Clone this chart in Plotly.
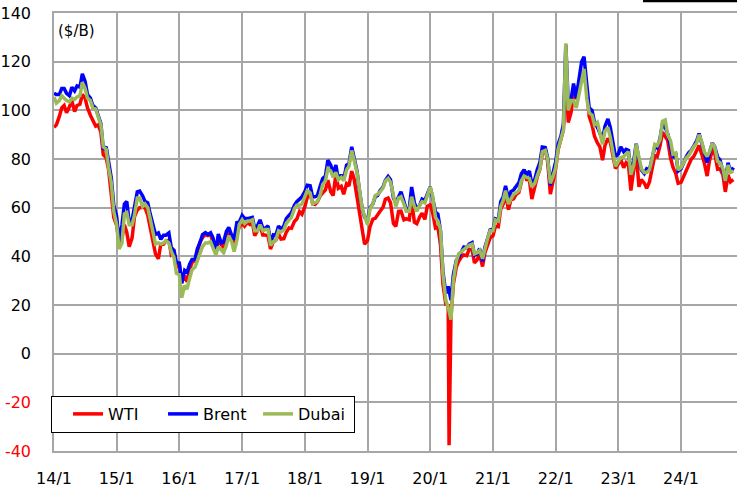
import pandas as pd
import plotly.graph_objects as go

# semi-monthly sample dates (1st and 15th), Jan 2014 - Nov 2024
dates = pd.date_range("2014-01-01", "2024-11-01", freq="SMS")

wti = [
    # 2014
    93, 94, 97.5, 101, 102, 99, 101.5, 104, 99.5, 102, 102.5, 106.5, 105, 101, 98, 96, 93.5, 94, 91, 81.8, 80.5, 75.6, 66.5, 56,
    # 2015
    52.7, 45.5, 47.5, 53, 49.8, 44, 47.6, 56.4, 59, 60, 60.2, 60, 56.9, 51.4, 46, 41, 39, 45, 45, 46.4, 46.6, 40.7, 41.6, 35.5,
    # 2016
    36.8, 29.5, 32, 29.5, 34.5, 37.5, 38.3, 41.5, 45.9, 47.7, 49, 48.5, 49, 45.8, 41, 46.5, 44.7, 43.5, 48.2, 50.4, 46.8, 45.6, 49.4, 52,
    # 2017
    53.7, 52.4, 53.9, 53.1, 54, 48.5, 50.6, 52.9, 48.8, 48.8, 48.3, 43, 46, 46.5, 49.2, 47.1, 47.3, 49.9, 51.7, 51.5, 54.3, 55.3, 58.4, 57.3,
    # 2018
    60.4, 64.3, 65.8, 61.7, 61.3, 62.3, 65, 66.2, 67.3, 71.3, 66.5, 65, 74, 68, 68.8, 65.5, 69.8, 68.9, 75, 71.8, 63.5, 56.5, 51, 45,
    # 2019
    46.5, 52.1, 55.3, 55.6, 56.8, 58.5, 60.1, 63.5, 64, 62, 53.5, 52.3, 58.5, 58.6, 55, 55.5, 55, 62.9, 54, 53.4, 56.2, 57.7, 55.2, 60.5,
    # 2020
    61.2, 58, 51.6, 52, 44.8, 28.7, 20.3, 19.9, 15, 28.5, 35.5, 38, 39.8, 40.6, 40.3, 42.9, 42.8, 37.3, 38.7, 40.9, 35.8, 41.5, 45.3, 47.6,
    # 2021
    48.5, 52.4, 52.2, 59.5, 61.5, 65.4, 59.2, 63.2, 63.6, 65.4, 66.3, 71, 75.2, 71.6, 71.3, 63.5, 68.5, 72.5, 75.8, 82.3, 84, 79, 65.6, 70.9,
    # 2022
    76, 83.8, 88.2, 92, 118, 95, 99.3, 106.9, 104.7, 110.5, 115, 115.3, 108.4, 97.6, 93.9, 89.4, 86.6, 85.1, 79.5, 85.6, 88.4, 86.9, 81.2, 76.1,
    # 2023
    78, 79.9, 76.4, 78.5, 77.5, 67, 75.7, 82.5, 68.6, 71.5, 70.1, 68, 70.6, 75.4, 81.4, 80.9, 85.5, 91, 89, 87.7, 80.4, 76.6, 74.1, 70,
    # 2024
    70.4, 72.6, 75.8, 78, 80, 81, 83.2, 85.5, 81.9, 78.6, 73, 79.4, 83.4, 82.4, 75.8, 76, 73.5, 66.5, 73.5, 70.6, 71.5,
]

brent = [
    # 2014
    107, 106.5, 106.5, 109, 109, 107, 106, 109.5, 108, 110, 109.5, 115, 112, 106.5, 105, 102, 101, 98, 94.5, 84, 85, 79, 72, 61,
    # 2015
    56.4, 46, 53, 61.5, 62.6, 54, 55, 60.3, 66.5, 66.8, 64.9, 62.6, 62, 57.5, 52.2, 49, 49.6, 47, 48.7, 48.7, 49.6, 43.6, 42.5, 37.5,
    # 2016
    37.3, 28.9, 34.2, 33.4, 36.8, 38.7, 38.7, 43.1, 45.8, 48.9, 49.7, 49, 49.7, 47.6, 42.1, 49.2, 45.5, 46, 50.2, 51.9, 48.6, 46.9, 53.9, 54,
    # 2017
    56.8, 55.5, 55.5, 55.8, 56, 51.5, 52.7, 55, 51.5, 51.5, 52.5, 45.5, 48.8, 48.5, 52.5, 51, 52.5, 55.5, 57, 58, 61, 62.5, 63.5, 64.5,
    # 2018
    66.6, 69.2, 69, 64.5, 64.5, 65, 69, 72, 73, 79.5, 77.5, 74, 77.5, 71.5, 73.5, 71.5, 77.5, 78, 85, 80.5, 75, 67, 59.5, 56,
    # 2019
    54.9, 60, 61.5, 64.5, 65, 67, 68.5, 71.2, 72.8, 71.5, 64, 62, 64.5, 66.5, 62.5, 59, 59.5, 68.5, 62, 59.5, 61, 63.5, 63, 65.3,
    # 2020
    68.5, 64, 58.2, 57.3, 50.5, 33.9, 24.7, 27.7, 22, 32.5, 38.3, 39.7, 42, 43.8, 43.5, 45, 45.6, 40.5, 41, 43.2, 37.9, 43.8, 47.4, 50.8,
    # 2021
    51.1, 55.4, 55, 62.5, 64.4, 69, 63.5, 66.6, 67.3, 68.7, 70.3, 73.9, 75.6, 73.5, 75, 69.5, 71.6, 75.5, 78.6, 84.9, 84.7, 80.5, 69.2, 73.9,
    # 2022
    78.9, 86, 89.5, 94.5, 127, 103, 104.5, 111, 105, 112, 120, 122, 111, 101, 100, 95, 93, 91, 88, 93.5, 96.5, 93, 87, 81,
    # 2023
    82.1, 85, 83, 84, 83.5, 73.5, 79.5, 86.3, 79.5, 75.5, 74, 76, 75.5, 80, 85, 84.5, 88.5, 94.5, 93, 90.5, 85, 80.5, 82.5, 75,
    # 2024
    75.9, 78.3, 81, 82.6, 83.6, 85.3, 87.4, 90.5, 86.3, 82.8, 78.5, 82.6, 86.6, 85, 80.8, 79.7, 75, 71, 78.5, 74.5, 76.5,
]

dubai = [
    # 2014
    105.5, 103, 104, 106, 105, 104, 103.5, 105, 104.5, 105.5, 106, 111.5, 109, 105, 104, 101, 100.5, 97, 94, 85, 84, 76.5, 70, 58.5,
    # 2015
    53, 43, 45.5, 57.5, 58, 53, 53, 57, 64, 64, 60.5, 61.5, 60, 55.5, 49, 45, 45.5, 45, 45.5, 46.5, 45.5, 42, 39.5, 33,
    # 2016
    32.5, 23, 28, 26.5, 31, 34.5, 35.5, 38.5, 41.5, 44, 45.5, 45.5, 46, 43, 40.5, 44, 42.5, 41.5, 44.5, 48.5, 46, 42, 46.5, 53,
    # 2017
    55, 53.5, 54.5, 54.5, 55, 50.5, 50.5, 53, 50.5, 51, 51, 44.5, 46, 46.5, 50.5, 50, 51, 53.5, 55, 56, 59.5, 61, 61, 61.5,
    # 2018
    64.5, 67, 66, 61.5, 62, 62.5, 65.5, 69.5, 71, 76, 75, 72.5, 74.5, 71.5, 72.5, 71, 75.5, 77, 83.5, 79.5, 74.5, 67.5, 59.5, 56.5,
    # 2019
    53, 59.5, 61.5, 65, 65.5, 66.5, 68, 71, 72, 70.5, 64, 60.5, 64, 64.5, 61.5, 58.5, 58.5, 64.5, 60.5, 58.5, 61, 62.5, 62, 65.5,
    # 2020
    68.5, 65, 56, 54.5, 51, 33, 22, 19, 14, 30, 38, 41, 42, 43, 44, 44.5, 45, 41, 41.5, 42.5, 39, 43.5, 47.5, 50.5,
    # 2021
    50.5, 55, 54.5, 60.5, 63, 67, 61.5, 63.5, 65.5, 66, 67, 71, 73, 72.5, 72, 68.5, 70, 73, 76, 83, 83.5, 80, 70, 72.5,
    # 2022
    76.5, 84, 88, 92, 127.5, 100, 104, 104, 101, 106, 111, 117, 105, 99, 98, 94, 95, 90, 86, 91.5, 93, 89, 81.5, 77,
    # 2023
    79, 80.5, 81, 82, 83, 73.5, 77.5, 86, 81, 76, 74.5, 74.5, 75.5, 79.5, 86, 85.5, 88, 95.5, 96, 90, 87.5, 82, 82.5, 75.5,
    # 2024
    76.5, 78.5, 80.5, 81.5, 83.5, 85, 86.5, 90, 87, 83, 81, 83, 86.5, 85, 79, 78.5, 76, 71, 77.5, 74.5, 75,
]

# WTI negative settlement, 20 April 2020
wti_spike_date = "2020-04-20"
wti_spike_value = -37.63

series_names = ["WTI", "Brent", "Dubai"]
series_colors = ["#ff0000", "#0000ff", "#9bbb59"]

x_tick_dates = [f"{y}-01-01" for y in range(2014, 2025)]
x_tick_labels = [f"{y % 100:02d}/1" for y in range(2014, 2025)]
y_tick_vals = list(range(-40, 141, 20))

# build WTI with spike inserted
wti_df = pd.DataFrame({"d": dates, "v": wti})
wti_df = pd.concat([wti_df, pd.DataFrame({"d": [pd.Timestamp(wti_spike_date)], "v": [wti_spike_value]})])
wti_df = wti_df.sort_values("d")

fig = go.Figure()
fig.add_trace(go.Scatter(x=wti_df["d"], y=wti_df["v"], mode="lines", name=series_names[0],
                         line=dict(color=series_colors[0], width=3.5)))
fig.add_trace(go.Scatter(x=dates, y=brent, mode="lines", name=series_names[1],
                         line=dict(color=series_colors[1], width=3.5)))
fig.add_trace(go.Scatter(x=dates, y=dubai, mode="lines", name=series_names[2],
                         line=dict(color=series_colors[2], width=3.5)))

font_family = "DejaVu Sans, Verdana, sans-serif"
y_tick_text = [f'<span style="color:#ff0000">{v}</span>' if v < 0 else str(v) for v in y_tick_vals]

grid_col = "#a6a6a6"
fig.update_layout(
    width=737, height=490,
    margin=dict(l=54, r=0, t=13, b=39, autoexpand=False),
    paper_bgcolor="white", plot_bgcolor="white",
    font=dict(family=font_family, size=16, color="#000000"),
    showlegend=True,
    legend=dict(orientation="h", x=-0.0044, y=0.1256, xanchor="left", yanchor="top",
                bgcolor="white", bordercolor="#000000", borderwidth=1,
                entrywidth=50, entrywidthmode="pixels",
                title=dict(text="&nbsp;", side="left"),
                font=dict(family=font_family, size=16, color="#000000")),
    xaxis=dict(type="date", range=["2014-01-01", "2024-11-22"], automargin=False,
               tickvals=x_tick_dates, ticktext=x_tick_labels,
               showgrid=True, gridcolor=grid_col, gridwidth=1.5,
               showline=True, linecolor=grid_col, linewidth=1.5, mirror=True,
               ticks="", ticklabelstandoff=12, zeroline=False,
               tickfont=dict(family=font_family, size=16, color="#000000")),
    yaxis=dict(range=[-40, 140], tickvals=y_tick_vals, ticktext=y_tick_text, automargin=False,
               showgrid=True, gridcolor=grid_col, gridwidth=1.5,
               showline=True, linecolor=grid_col, linewidth=1.5,
               ticks="", ticklabelstandoff=18, zeroline=False,
               tickfont=dict(family=font_family, size=16, color="#000000")),
    annotations=[dict(text="($/B)", xref="paper", yref="paper", x=0.003, y=0.959,
                      xanchor="left", yanchor="middle", showarrow=False,
                      font=dict(family=font_family, size=15, color="#000000"))],
    shapes=[dict(type="rect", xref="paper", yref="paper", x0=0.8624, x1=1.01,
                 y0=1.0245, y1=1.04, fillcolor="#000000", line=dict(width=0))],
)

fig.write_html("out.html", config={"displayModeBar": False},
               post_script="document.body.style.margin='0';document.body.style.overflow='hidden';")
